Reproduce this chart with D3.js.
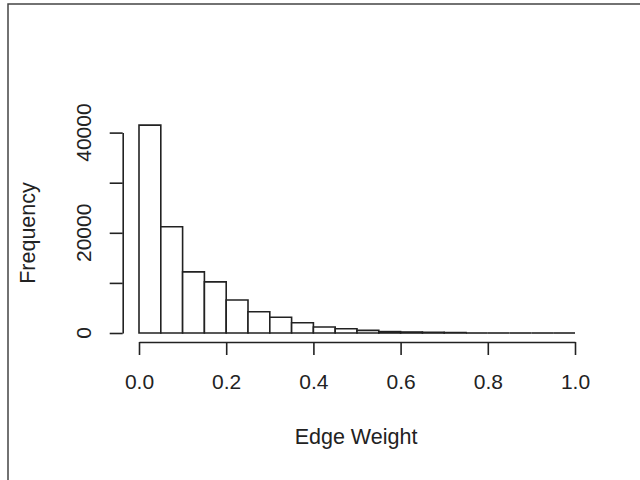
<!DOCTYPE html>
<html>
<head>
<meta charset="utf-8">
<script src="https://cdn.jsdelivr.net/npm/d3@7"></script>
<style>
  body { margin: 0; background: #fff; }
  text { font-family: "Liberation Sans", Arial, sans-serif; fill: #222; }
</style>
</head>
<body>
<div id="chart"></div>
<script>
// histogram bins (lower edges) and counts
var binStarts = [0.00, 0.05, 0.10, 0.15, 0.20, 0.25, 0.30, 0.35, 0.40, 0.45,
                 0.50, 0.55, 0.60, 0.65, 0.70, 0.75, 0.80, 0.85, 0.90, 0.95];
var counts = [41500, 21200, 12200, 10200, 6600, 4250, 3150, 2050, 1200, 850,
              530, 280, 200, 140, 90, 0, 0, 0, 0, 0];
var binWidth = 0.05;
var xTicks = [0, 0.2, 0.4, 0.6, 0.8, 1.0];
var yTicks = [0, 10000, 20000, 30000, 40000];
var yLabels = [0, 20000, 40000];

var svg = d3.select("#chart").append("svg")
    .attr("width", 640)
    .attr("height", 480);

// outer frame
svg.append("rect")
    .attr("x", 8)
    .attr("y", 4)
    .attr("width", 700)
    .attr("height", 600)
    .attr("fill", "none")
    .attr("stroke", "#444")
    .attr("stroke-width", 1.5);

var x = d3.scaleLinear().domain([0, 1]).range([139, 575]);
var y = d3.scaleLinear().domain([0, 40000]).range([333, 132.6]);

// bars as paths; empty bins become a flat line on the baseline
svg.append("g")
    .selectAll("path")
    .data(counts)
    .enter().append("path")
    .attr("d", function(d, i) {
        var x0 = x(binStarts[i]), x1 = x(binStarts[i] + binWidth);
        if (d === 0) return "M" + x0 + "," + y(0) + "H" + x1;
        return "M" + x0 + "," + y(0) + "V" + y(d) + "H" + x1 + "V" + y(0) + "Z";
    })
    .attr("fill", "#fff")
    .attr("stroke", "#222")
    .attr("stroke-width", 1.6);

// x axis
var xAxis = svg.append("g")
    .attr("transform", "translate(0,342)")
    .call(d3.axisBottom(x).tickValues(xTicks).tickFormat(d3.format(".1f"))
        .tickSize(13).tickSizeOuter(0).tickPadding(19));
xAxis.selectAll("path, line").attr("stroke", "#222").attr("stroke-width", 1.6);
xAxis.selectAll("text").style("font-size", "21px").attr("fill", "#222");

// y axis
var yAxis = svg.append("g")
    .attr("transform", "translate(122.7,0)")
    .call(d3.axisLeft(y).tickValues(yTicks).tickFormat("")
        .tickSize(13).tickSizeOuter(0));
yAxis.selectAll("path, line").attr("stroke", "#222").attr("stroke-width", 1.6);

svg.append("g")
    .selectAll("text")
    .data(yLabels)
    .enter().append("text")
    .attr("transform", function(d) { return "translate(91," + y(d) + ") rotate(-90)"; })
    .attr("text-anchor", "middle")
    .style("font-size", "21px")
    .text(function(d) { return d; });

// axis titles
svg.append("text")
    .attr("x", 356)
    .attr("y", 444)
    .attr("text-anchor", "middle")
    .style("font-size", "21.5px")
    .text("Edge Weight");

svg.append("text")
    .attr("transform", "translate(35,233) rotate(-90)")
    .attr("text-anchor", "middle")
    .style("font-size", "21.5px")
    .text("Frequency");
</script>
</body>
</html>
